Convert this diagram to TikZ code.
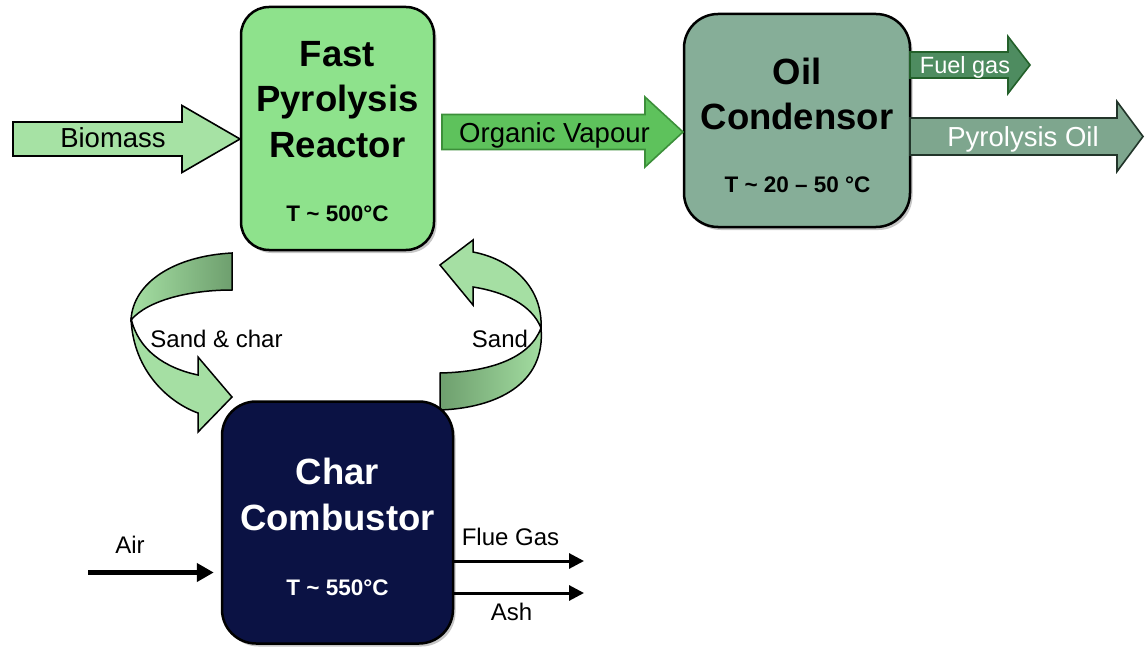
\documentclass[tikz,border=0pt]{standalone}
\usepackage{fontspec}
\setmainfont{Liberation Sans}
\usetikzlibrary{arrows.meta,positioning,calc,shadows}
\definecolor{reactorgreen}{HTML}{8EE28C}
\definecolor{condensergreen}{HTML}{86AE98}
\definecolor{combustornavy}{HTML}{0B1244}
\definecolor{feedgreen}{HTML}{A6E2A4}
\definecolor{vapourgreen}{HTML}{5EC25C}
\definecolor{vapouredge}{HTML}{3C8F3A}
\definecolor{gasgreen}{HTML}{4E8C60}
\definecolor{gasedge}{HTML}{23602A}
\definecolor{oilgreen}{HTML}{7EA68E}
\definecolor{oiledge}{HTML}{22352A}
\definecolor{loopgreen}{HTML}{A5DFA3}
\definecolor{loopshade}{HTML}{6E9F6E}
\tikzset{
  unit/.style={
    rectangle,
    rounded corners=28pt,
    draw=black,
    line width=2.5pt,
    drop shadow={shadow xshift=2.5pt, shadow yshift=-3pt, opacity=0.45}
  },
  reactorbox/.style={unit, fill=reactorgreen},
  condenserbox/.style={unit, fill=condensergreen, rounded corners=34pt},
  combustorbox/.style={unit, fill=combustornavy, rounded corners=34pt},
  title/.style={
    align=center,
    inner sep=0pt,
    font=\bfseries\fontsize{36.5}{45.5}\selectfont
  },
  temp/.style={
    anchor=base,
    inner sep=0pt,
    font=\bfseries\fontsize{22.5}{27}\selectfont
  },
  streamlabel/.style={
    anchor=base,
    inner sep=0pt,
    font=\fontsize{27.5}{33}\selectfont
  },
  smalllabel/.style={
    anchor=base,
    inner sep=0pt,
    font=\fontsize{24}{29}\selectfont
  },
  block/.style n args={3}{
    to path={
      ($(\tikztostart)+(0,#1)$) -- ($(\tikztotarget)+(-#3,#1)$)
      -- ($(\tikztotarget)+(-#3,#2)$) -- (\tikztotarget)
      -- ($(\tikztotarget)+(-#3,-#2)$) -- ($(\tikztotarget)+(-#3,-#1)$)
      -- ($(\tikztostart)+(0,-#1)$) -- cycle
    }
  },
  feedflow/.style={fill=feedgreen, draw=black, line width=1.6pt, line join=miter},
  vapourflow/.style={fill=vapourgreen, draw=vapouredge, line width=1.6pt},
  gasflow/.style={fill=gasgreen, draw=gasedge, line width=1.6pt},
  oilflow/.style={fill=oilgreen, draw=oiledge, line width=1.6pt},
  loop/.style={draw=black, line width=1.5pt, line join=miter},
  lineflow/.style={
    -{Triangle[length=15pt,width=15pt]},
    draw=black,
    line width=3pt
  }
}
\begin{document}
\begin{tikzpicture}[x=1pt, y=-1pt]
\useasboundingbox (0,0) rectangle (1145,647);

% Sand loops between reactor and combustor (drawn first, boxes on top).
\shade[loop, left color=loopgreen, right color=loopshade]
  (232,253) .. controls (175,256) and (133,282) .. (131,320)
  .. controls (148,300) and (190,290) .. (232,290) -- cycle;
\fill[loop, fill=loopgreen]
  (131,318) .. controls (133,372) and (170,403) .. (198,413)
  -- (198,432) -- (232,397) -- (198,357) -- (198,375)
  .. controls (165,368) and (138,350) .. (131,318) -- cycle;
\fill[loop, fill=loopgreen]
  (541,328) .. controls (543,290) and (515,260) .. (473,252)
  -- (473,240) -- (440,265) -- (473,305) -- (473,287)
  .. controls (505,292) and (532,305) .. (541,328) -- cycle;
\shade[loop, left color=loopshade, right color=loopgreen]
  (541,328) .. controls (546,385) and (495,408) .. (440,410)
  -- (440,373) .. controls (490,372) and (530,358) .. (541,328) -- cycle;

% Process units.
\node[reactorbox, minimum width=193pt, minimum height=243pt] (reactor) at (337.5,128.5) {};
\node[condenserbox, minimum width=226pt, minimum height=213pt] (condenser) at (797,120.5) {};
\node[combustorbox, minimum width=231pt, minimum height=242pt] (combustor) at (337.5,522.5) {};

\node[title, below=35pt of reactor.north] (reactor title) {Fast\\Pyrolysis\\Reactor};
\node[temp] (reactor temp) at (337.5,222) {T \~{} 500°C};
\node[title, below=45pt of condenser.north] (condenser title) {Oil\\Condensor};
\node[temp] (condenser temp) at (797.5,193) {T \~{} 20 -- 50 °C};
\node[title, text=white, below=58pt of combustor.north] (combustor title) {Char\\Combustor};
\node[temp, text=white] (combustor temp) at (337.5,595) {T \~{} 550°C};

% Block arrows for the main streams.
\coordinate (biomass tail) at (13,139);
\coordinate (biomass tip) at (240,139);
\coordinate (vapour tail) at (442,132);
\coordinate (vapour tip) at (683,132);
\coordinate (gas tail) at (910,65);
\coordinate (gas tip) at (1030,65);
\coordinate (oil tail) at (910,136.5);
\coordinate (oil tip) at (1143,136.5);

\draw[feedflow, block={17}{33.5}{58}] (biomass tail) to (biomass tip);
\draw[vapourflow, block={17.5}{35}{38}] (vapour tail) to (vapour tip);
\draw[gasflow, block={13}{28.5}{22}] (gas tail) to (gas tip);
\draw[oilflow, block={18.5}{35}{26}] (oil tail) to (oil tip);

\node[streamlabel] (biomass) at (113,148) {Biomass};
\node[streamlabel] (vapour) at (554.5,143) {Organic Vapour};
\node[smalllabel, text=white, font=\fontsize{23.5}{28}\selectfont] (fuel gas) at (965,74) {Fuel gas};
\node[streamlabel, text=white] (oil) at (1023,147) {Pyrolysis Oil};

% Loop labels.
\node[smalllabel] (sand char) at (216.5,347) {Sand \& char};
\node[smalllabel] (sand) at (500,347) {Sand};

% Air in, flue gas and ash out.
\coordinate (air in) at (88,572.5);
\coordinate (flue out) at (584,561);
\coordinate (ash out) at (584,593);
\draw[lineflow, line width=4.5pt, -{Triangle[length=17pt,width=18pt]}]
  (air in) -- ($(air in -| combustor.west)+(-7,0)$);
\draw[lineflow] (flue out -| combustor.east) -- (flue out);
\draw[lineflow] (ash out -| combustor.east) -- (ash out);

\node[smalllabel] (air) at (130,553) {Air};
\node[smalllabel] (flue gas) at (510.5,545) {Flue Gas};
\node[smalllabel] (ash) at (511.5,620) {Ash};

\end{tikzpicture}
\end{document}
